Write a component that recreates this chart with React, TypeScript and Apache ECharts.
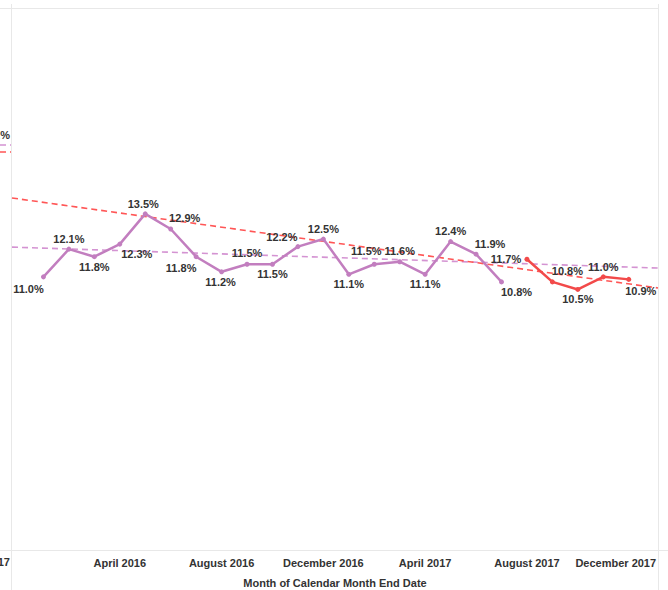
import React, { useEffect, useRef } from "react";
import * as echarts from "echarts";

// Month index: 0 = December 2015, 1 = January 2016, ... 24 = December 2017
const monthNames = [
  "December 2015", "January 2016", "February 2016", "March 2016", "April 2016", "May 2016",
  "June 2016", "July 2016", "August 2016", "September 2016", "October 2016", "November 2016",
  "December 2016", "January 2017", "February 2017", "March 2017", "April 2017", "May 2017",
  "June 2017", "July 2017", "August 2017", "September 2017", "October 2017", "November 2017",
  "December 2017",
];
const tickMonths = [4, 8, 12, 16, 20, 24];

const purpleMonths = [1, 2, 3, 4, 5, 6, 7, 8, 9, 10, 11, 12, 13, 14, 15, 16, 17, 18, 19];
const purpleValues = [11.0, 12.1, 11.8, 12.3, 13.5, 12.9, 11.8, 11.2, 11.5, 11.5, 12.2, 12.5, 11.1, 11.5, 11.6, 11.1, 12.4, 11.9, 10.8];
const redMonths = [20, 21, 22, 23, 24];
const redValues = [11.7, 10.8, 10.5, 11.0, 10.9];

// trend lines: values at the left and right edges of the pane
const xRange = [-0.236, 25.15];
const purpleTrend = [12.18, 11.35];
const redTrend = [14.13, 10.56];

// label offsets (layout only)
const purpleLabelOffsets = [
  [-15, 12], [0, -10], [0, 10], [17, 10], [-2, -10], [14, -11], [-15, 11], [-1, 10],
  [0, -11], [0, 10], [-16, -10], [0, -10], [0, 10], [-8, -13], [0, -11], [0, 10],
  [0, -11], [14, -10], [15, 10],
];
const redLabelOffsets = [[-21, 0], [15, -11], [0, 10], [0, -10], [12, 12]];

const PURPLE = "#c27ebf";
const RED = "#f24a4a";
const LABEL_FONT = { fontFamily: "Arial, 'Liberation Sans', sans-serif", fontSize: 11, fontWeight: "bold" as const, color: "#333" };

function buildData(months: number[], values: number[], offsets: number[][]) {
  return months.map((m, i) => ({
    value: [m, values[i]],
    label: {
      show: true,
      position: "inside",
      offset: offsets[i],
      formatter: () => values[i].toFixed(1) + "%",
      ...LABEL_FONT,
    },
  }));
}

export default function App() {
  const ref = useRef<HTMLDivElement>(null);
  useEffect(() => {
    if (!ref.current) return;
    const chart = echarts.init(ref.current, undefined, { renderer: "svg" });
    const divider = { stroke: "#e8e8e8", lineWidth: 1 };
    chart.setOption({
      animation: false,
      backgroundColor: "#fff",
      grid: { left: 12, right: 10, top: 8, bottom: 40, containLabel: false, outerBoundsMode: "none" },
      xAxis: {
        type: "value",
        min: xRange[0],
        max: xRange[1],
        splitLine: { show: false },
        axisLine: { show: false, onZero: false },
        axisTick: { show: false },
        axisLabel: {
          customValues: tickMonths,
          margin: 7,
          ...LABEL_FONT,
          formatter: (v: number) => {
            const name = monthNames[Math.round(v)];
            return v === 24 ? "{last|" + name + "}" : name;
          },
          rich: { last: { ...LABEL_FONT, padding: [0, 26, 0, 0] } },
        },
        name: "Month of Calendar Month End Date",
        nameLocation: "middle",
        nameGap: 27,
        nameTextStyle: { ...LABEL_FONT },
      },
      yAxis: {
        type: "value",
        min: 0.16,
        max: 21.67,
        show: false,
      },
      series: [
        {
          type: "line",
          data: [[xRange[0], purpleTrend[0]], [xRange[1], purpleTrend[1]]],
          symbol: "none",
          lineStyle: { color: "#d493d2", width: 1.6, type: [6, 4] },
          silent: true,
          z: 1,
        },
        {
          type: "line",
          data: [[xRange[0], redTrend[0]], [xRange[1], redTrend[1]]],
          symbol: "none",
          lineStyle: { color: "#ff5656", width: 1.6, type: [6, 4] },
          silent: true,
          z: 1,
        },
        {
          type: "line",
          data: buildData(purpleMonths, purpleValues, purpleLabelOffsets),
          symbol: "circle",
          symbolSize: 5,
          itemStyle: { color: PURPLE },
          lineStyle: { color: PURPLE, width: 2.5 },
          z: 3,
        },
        {
          type: "line",
          data: buildData(redMonths, redValues, redLabelOffsets),
          symbol: "circle",
          symbolSize: 5,
          itemStyle: { color: RED },
          lineStyle: { color: RED, width: 2.5 },
          z: 3,
        },
      ],
      graphic: [
        { type: "line", shape: { x1: 0, y1: 8.5, x2: 658, y2: 8.5 }, style: divider, silent: true },
        { type: "line", shape: { x1: 0, y1: 550.5, x2: 668, y2: 550.5 }, style: divider, silent: true },
        { type: "line", shape: { x1: 11.5, y1: 4, x2: 11.5, y2: 590 }, style: divider, silent: true },
        { type: "line", shape: { x1: 658.5, y1: 4, x2: 658.5, y2: 590 }, style: divider, silent: true },
        // edge of the neighbouring pane on the left
        { type: "line", shape: { x1: 0, y1: 145, x2: 11, y2: 145 }, style: { stroke: "#d493d2", lineWidth: 1.6, lineDash: [6, 4] }, silent: true },
        { type: "line", shape: { x1: 0, y1: 152, x2: 11, y2: 152 }, style: { stroke: "#ff5656", lineWidth: 1.6, lineDash: [6, 4] }, silent: true },
        { type: "text", x: 10, y: 135, style: { text: "12.2%", align: "right", verticalAlign: "middle", font: "bold 11px Arial, 'Liberation Sans', sans-serif", fill: "#333" }, silent: true },
        { type: "text", x: 10, y: 562, style: { text: "December 2017", align: "right", verticalAlign: "middle", font: "bold 11px Arial, 'Liberation Sans', sans-serif", fill: "#333" }, silent: true },
      ],
    });
    return () => chart.dispose();
  }, []);
  return <div ref={ref} style={{ width: 668, height: 590, position: "absolute", left: 0, top: 0 }} />;
}
